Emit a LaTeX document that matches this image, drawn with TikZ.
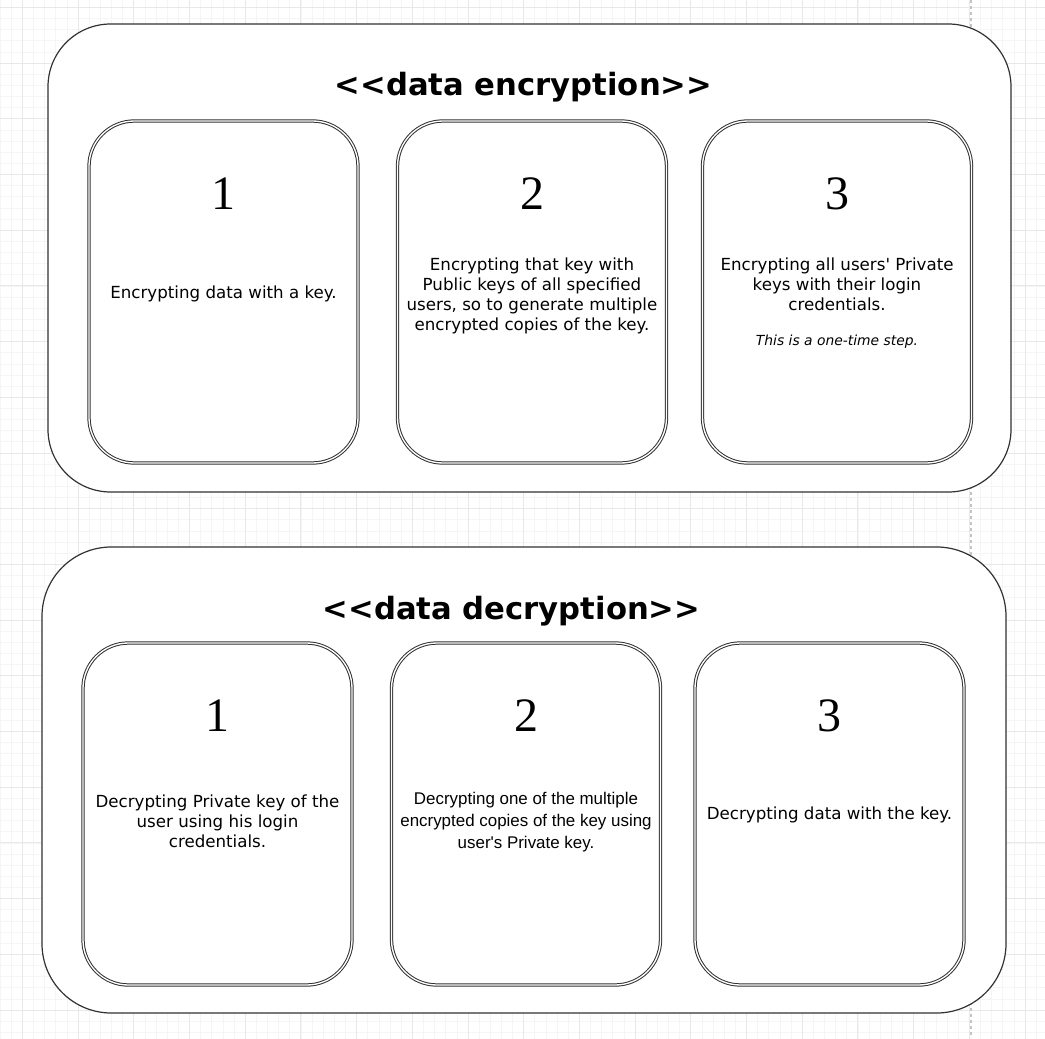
\documentclass[tikz,border=0pt]{standalone}
\usepackage{fontspec}
\usepackage{xcolor}
\usepackage{tikz}
\usetikzlibrary{positioning}
\newfontfamily\verdanafont{DejaVu Sans}
\newfontfamily\arialfont{Liberation Sans}
\newfontfamily\numberfont{Liberation Serif}
\definecolor{gridminor}{RGB}{245,245,245}
\definecolor{gridmajor}{RGB}{232,232,232}
\definecolor{pageline}{RGB}{195,195,195}
\definecolor{outline}{RGB}{50,50,50}

\tikzset{
  panel/.style={draw=outline, line width=0.9pt, fill=white, inner sep=0pt, outer sep=0pt},
  stepcard/.style={draw=outline, line width=0.75pt, double=white, double distance=1pt,
    fill=white, rounded corners=34pt, inner sep=0pt, outer sep=0pt,
    minimum width=201.75pt, minimum height=256.5pt},
  paneltitle/.style={font=\verdanafont\bfseries\fontsize{23}{27}\selectfont, inner sep=0pt},
  stepnum/.style={font=\numberfont\fontsize{36}{40}\selectfont, inner sep=0pt},
  steptext/.style={font=\verdanafont\fontsize{12.5}{15}\selectfont, align=center, inner sep=0pt},
  steptextb/.style={font=\arialfont\fontsize{12.7}{16.6}\selectfont, align=center, inner sep=0pt}
}

\begin{document}
\begin{tikzpicture}[x=0.75pt, y=-0.75pt]
    \useasboundingbox (0,0) rectangle (1045,1038);

    % background grid
    \fill[white] (0,0) rectangle (1045,1038);
    \begin{scope}[shift={(22.3,7.3)}]
        \draw[gridminor, line width=0.4pt, step=8.355pt] (-30pt,10pt) grid (780pt,-780pt);
        \draw[gridmajor, line width=0.5pt, step=41.775pt] (-30pt,10pt) grid (780pt,-780pt);
    \end{scope}
    \draw[pageline, line width=0.8pt, dash pattern=on 2.5pt off 2pt] (971,0) -- (971,1038);

    % Encryption panel
    \node[panel, rounded corners=47pt, minimum width=722.25pt, minimum height=351pt] (encpanel) at (529.5,258) {};
    \node[paneltitle] (enctitle) at (523.5,87.5) {<<data encryption>>};

    \node[stepcard] (enccard1) at (223.5,292) {};
    \node[stepcard] (enccard2) at (532,292) {};
    \node[stepcard] (enccard3) at (837,292) {};

    \node[stepnum] (encnum1) at (223.5,193.5) {1};
    \node[stepnum] (encnum2) at (532,193.5) {2};
    \node[stepnum] (encnum3) at (837,193.5) {3};

    \node[steptext] (enctext1) at (223.5,294) {Encrypting data with a key.};
    \node[steptext] (enctext2) at (532,295.5) {Encrypting that key with\\Public keys of all specified\\users, so to generate multiple\\encrypted copies of the key.};
    \node[steptext] (enctext3) at (837,303) {Encrypting all users\textquotesingle{} Private\\keys with their login\\credentials.\\[11pt]{\fontsize{10.4}{13}\selectfont\itshape This is a one-time step.}};

    % Decryption panel
    \node[panel, rounded corners=52pt, minimum width=723pt, minimum height=349.5pt] (decpanel) at (524,780) {};
    \node[paneltitle] (dectitle) at (511.5,611.5) {<<data decryption>>};

    \node[stepcard] (deccard1) at (217.5,814) {};
    \node[stepcard] (deccard2) at (526,814) {};
    \node[stepcard] (deccard3) at (829.5,814) {};

    \node[stepnum] (decnum1) at (217.5,716) {1};
    \node[stepnum] (decnum2) at (526,716) {2};
    \node[stepnum] (decnum3) at (829.5,716) {3};

    \node[steptext] (dectext1) at (217.5,821) {Decrypting Private key of the\\user using his login\\credentials.};
    \node[steptextb] (dectext2) at (526,822) {Decrypting one of the multiple\\encrypted copies of the key using\\user\textquotesingle s Private key.};
    \node[steptext] (dectext3) at (829.5,815) {Decrypting data with the key.};
\end{tikzpicture}
\end{document}
